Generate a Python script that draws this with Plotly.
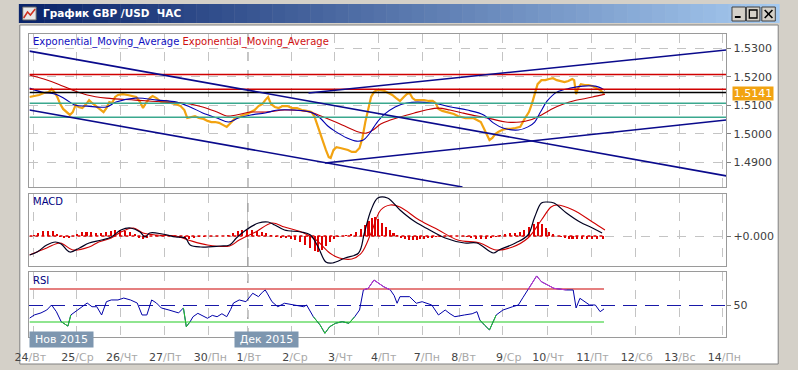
import plotly.graph_objects as go
import numpy as np

# ======================= DATA =======================
# time index (hourly bar time, arbitrary linear units)
grid_t = [19, 64, 110, 155, 201, 242, 287, 332, 378, 423, 462, 507, 553, 599, 645, 690, 735]
label_t = [16, 65, 111, 156, 203, 243, 291, 338, 383, 428, 466, 513, 554, 600, 646, 691, 737]
day_num = ["24", "25", "26", "27", "30", "1", "2", "3", "4", "7", "8", "9", "10", "11", "12", "13", "14"]
day_name = ["Вт", "Ср", "Чт", "Пт", "Пн", "Вт", "Ср", "Чт", "Пт", "Пн", "Вт", "Ср", "Чт", "Пт", "Сб", "Вс", "Пн"]
month_t = 242
month_labels = ["Нов 2015", "Дек 2015"]

t_price = [15, 20, 25, 30, 35, 38, 41, 44, 47, 50, 54, 57, 60, 63, 66, 70, 74, 77, 80, 84, 88, 92, 95, 98,
           101, 104, 107, 112, 117, 122, 126, 130, 133, 136, 140, 143, 147, 152, 157, 162, 167, 172, 176,
           179, 183, 187, 191, 196, 200, 204, 208, 212, 216, 220, 223, 226, 229, 233, 237, 241, 245, 249,
           253, 257, 260, 263, 266, 270, 274, 278, 283, 288, 293, 298, 303, 308, 311, 314, 317, 320, 323,
           326, 328, 331, 334, 338, 342, 346, 350, 354, 358, 361, 364, 367, 370, 373, 376, 380, 384, 388,
           392, 396, 400, 404, 407, 410, 413, 416, 420, 425, 430, 434, 437, 440, 444, 448, 452, 456, 460,
           464, 468, 472, 476, 480, 484, 487, 490, 493, 496, 499, 502, 506, 510, 515, 520, 525, 530, 534,
           537, 540, 543, 547, 551, 555, 559, 563, 567, 571, 575, 579, 581, 583, 585, 588, 592, 596, 600,
           604, 608, 612]
price = [1.5129, 1.5132, 1.5136, 1.5143, 1.5146, 1.5157, 1.5146, 1.5129, 1.5104, 1.5087, 1.5076, 1.5066,
         1.5076, 1.5101, 1.5094, 1.5090, 1.5104, 1.5118, 1.5108, 1.5097, 1.5087, 1.5076, 1.5090, 1.5111,
         1.5108, 1.5129, 1.5136, 1.5139, 1.5136, 1.5132, 1.5129, 1.5111, 1.5090, 1.5108, 1.5125, 1.5132,
         1.5125, 1.5111, 1.5115, 1.5108, 1.5104, 1.5097, 1.5083, 1.5055, 1.5059, 1.5062, 1.5055, 1.5052,
         1.5045, 1.5041, 1.5041, 1.5038, 1.5031, 1.5024, 1.5034, 1.5045, 1.5055, 1.5059, 1.5066, 1.5069,
         1.5076, 1.5083, 1.5097, 1.5104, 1.5118, 1.5129, 1.5104, 1.5094, 1.5090, 1.5097, 1.5097, 1.5090,
         1.5090, 1.5083, 1.5080, 1.5076, 1.5062, 1.5031, 1.5002, 1.4967, 1.4943, 1.4918, 1.4915, 1.4943,
         1.4953, 1.4950, 1.4946, 1.4943, 1.4936, 1.4936, 1.4950, 1.4985, 1.5041, 1.5083, 1.5129, 1.5146,
         1.5153, 1.5153, 1.5150, 1.5143, 1.5136, 1.5125, 1.5115, 1.5129, 1.5139, 1.5143, 1.5125, 1.5118,
         1.5118, 1.5118, 1.5115, 1.5115, 1.5108, 1.5087, 1.5080, 1.5076, 1.5073, 1.5069, 1.5062, 1.5059,
         1.5055, 1.5055, 1.5055, 1.5048, 1.5041, 1.5020, 1.4999, 1.4978, 1.4985, 1.4999, 1.5006, 1.5013,
         1.5017, 1.5017, 1.5020, 1.5024, 1.5055, 1.5076, 1.5104, 1.5139, 1.5174, 1.5188, 1.5188, 1.5192,
         1.5195, 1.5188, 1.5185, 1.5181, 1.5185, 1.5192, 1.5188, 1.5139, 1.5160, 1.5174, 1.5171, 1.5171,
         1.5167, 1.5160, 1.5153, 1.5141]
last_price = 1.5141

t_ema_fast = [15, 28, 42, 52, 62, 75, 95, 105, 125, 148, 168, 182, 195, 210, 222, 232, 245, 260, 273, 290,
              307, 317, 325, 332, 345, 355, 362, 368, 375, 383, 395, 407, 433, 453, 470, 487, 497, 507, 523,
              533, 540, 546, 553, 563, 577, 590, 603, 613]
ema_fast = [1.5160, 1.5146, 1.5139, 1.5122, 1.5101, 1.5097, 1.5094, 1.5111, 1.5125, 1.5118, 1.5111, 1.5094,
            1.5073, 1.5055, 1.5041, 1.5055, 1.5066, 1.5073, 1.5083, 1.5083, 1.5076, 1.5055, 1.5027, 1.5010,
            1.4985, 1.4974, 1.4978, 1.4999, 1.5034, 1.5066, 1.5094, 1.5108, 1.5108, 1.5094, 1.5083, 1.5066,
            1.5038, 1.5020, 1.5013, 1.5024, 1.5041, 1.5076, 1.5115, 1.5146, 1.5160, 1.5167, 1.5167, 1.5153]

t_ema_slow = [15, 30, 45, 60, 75, 95, 125, 155, 175, 195, 210, 220, 230, 245, 260, 280, 300, 310, 323, 340,
              357, 365, 372, 380, 390, 400, 415, 427, 440, 452, 465, 480, 495, 510, 525, 535, 547, 560, 570,
              580, 590, 600, 613]
ema_slow = [1.5206, 1.5192, 1.5174, 1.5153, 1.5136, 1.5125, 1.5118, 1.5111, 1.5108, 1.5094, 1.5076, 1.5062,
            1.5066, 1.5076, 1.5076, 1.5083, 1.5080, 1.5073, 1.5055, 1.5031, 1.5006, 1.5002, 1.5013, 1.5034,
            1.5048, 1.5059, 1.5073, 1.5083, 1.5090, 1.5083, 1.5073, 1.5062, 1.5052, 1.5041, 1.5041, 1.5048,
            1.5066, 1.5090, 1.5104, 1.5115, 1.5122, 1.5129, 1.5139]

h_levels = [1.5208, 1.5156, 1.5145, 1.5107, 1.5058]
trend_t = [[15, 739], [15, 465], [322, 739], [305, 739]]
trend_p = [[1.5290, 1.4852], [1.5083, 1.4813], [1.4897, 1.5048], [1.5143, 1.5294]]
price_ticks = [1.49, 1.50, 1.51, 1.52, 1.53]

t_macd = [15, 23, 33, 42, 48, 57, 67, 77, 90, 100, 110, 120, 130, 135, 140, 153, 167, 177, 182, 193, 213,
          223, 230, 240, 253, 263, 270, 280, 297, 307, 315, 323, 330, 343, 357, 363, 370, 377, 387, 400, 413,
          427, 447, 467, 480, 497, 503, 520, 533, 540, 547, 553, 560, 573, 587, 600, 610]
macd = [-0.00095, -0.0008, -0.00045, -0.0003, -0.0004, -0.0008, -0.0006, -0.00035, -0.0002, -0.00005, 0.0003,
        0.0004, 0.0002, -0.00005, 0.00015, 0.0001, -0.00005, -0.0001, -0.00045, -0.00055, -0.0005, -0.00045,
        -0.0001, 0.0003, 0.00065, 0.0007, 0.00055, 0.0003, 0.0002, 0.00005, -0.00055, -0.0013, -0.00135,
        -0.0011, -0.00085, 0.00015, 0.0013, 0.0019, 0.0019, 0.0013, 0.0008, 0.0004, -0.0001, -0.00035,
        -0.00035, -0.00085, -0.0007, -0.00035, 0.00005, 0.00095, 0.00165, 0.0017, 0.00165, 0.00115, 0.0007,
        0.0004, 0.00015]
t_signal = [15, 33, 47, 60, 77, 87, 100, 110, 123, 133, 147, 167, 180, 200, 223, 233, 250, 267, 280, 300, 313,
            327, 337, 350, 360, 370, 380, 390, 400, 420, 440, 460, 483, 500, 517, 533, 547, 557, 563, 580, 600, 613]
signal = [-0.00095, -0.0006, -0.00035, -0.0007, -0.00055, -0.0003, -0.0001, 0.0002, 0.0004, 0.00015, 0.00005,
          0.0, -0.0002, -0.00045, -0.0005, -0.0002, 0.0002, 0.00065, 0.00045, 0.00015, -0.0002, -0.00085,
          -0.0011, -0.00115, -0.00085, 0.00015, 0.0013, 0.00155, 0.00145, 0.0008, 0.0003, -0.0002, -0.00035,
          -0.0007, -0.00055, -0.0001, 0.0008, 0.00145, 0.00155, 0.0013, 0.0007, 0.0003]
t_hist = [15, 20, 25, 30, 35, 40, 44, 47, 52, 57, 61, 65, 70, 75, 80, 85, 90, 95, 100, 105, 110, 115, 120, 125,
          130, 134, 138, 142, 147, 152, 157, 162, 167, 172, 177, 182, 187, 192, 197, 202, 207, 212, 217, 222,
          227, 232, 237, 242, 247, 252, 257, 262, 267, 272, 277, 282, 287, 292, 297, 302, 307, 312, 316, 320,
          324, 328, 332, 336, 340, 345, 350, 355, 360, 364, 368, 372, 375, 378, 382, 386, 390, 394, 398, 402,
          406, 410, 414, 418, 422, 426, 430, 434, 438, 442, 446, 450, 455, 460, 465, 470, 475, 480, 485, 490,
          495, 500, 505, 510, 515, 520, 525, 530, 535, 540, 544, 548, 552, 556, 560, 564, 568, 572, 576, 580,
          585, 590, 595, 600, 605, 612]
hist = [0.0, 0.00005, 0.00015, 0.00025, 0.00025, 0.00025, 0.0001, -0.00005, -0.0001, -0.0001, 0.0, 0.0001,
        0.0002, 0.0002, 0.0002, 0.00015, 0.00015, 0.0002, 0.00025, 0.0003, 0.0003, 0.00025, 0.0002, 0.0001,
        -0.0001, -0.00015, -0.0001, 0.0, 0.00005, 0.00005, 0.00005, 0.0, -0.00005, -0.0001, -0.00015, -0.00015,
        -0.0001, -0.00005, -0.00005, 0.0, 0.0, 0.0, 0.0, 0.00005, 0.00015, 0.00025, 0.0003, 0.0003, 0.0003,
        0.00025, 0.0002, 0.00015, 0.00005, -0.00005, -0.0001, -0.0001, -0.00015, -0.0002, -0.0003, -0.00045,
        -0.0006, -0.00075, -0.0008, -0.0007, -0.0005, -0.0003, -0.00015, -0.00005, 0.0, 0.00005, 0.0001,
        0.0002, 0.00035, 0.00055, 0.00075, 0.0009, 0.00095, 0.00085, 0.00065, 0.00045, 0.0003, 0.00015,
        0.00005, -0.0001, -0.00015, -0.0002, -0.0002, -0.0002, -0.00015, -0.00015, -0.0001, -0.0001, -0.00005,
        -0.00005, 0.0, 0.0, 0.0, 0.0, 0.0, -0.00005, -0.0001, -0.00015, -0.00015, -0.00015, -0.0001, -0.00005,
        0.00005, 0.0001, 0.00015, 0.00015, 0.0002, 0.0003, 0.00045, 0.0006, 0.0007, 0.0006, 0.0004, 0.0002,
        0.0001, 0.0, -0.00005, -0.0001, -0.00015, -0.00015, -0.00015, -0.00015, -0.00015, -0.00015, -0.00015,
        -0.00015]

t_rsi = [15, 20, 27, 33, 38, 43, 48, 52, 55, 58, 63, 70, 75, 80, 85, 90, 95, 100, 107, 113, 120, 127, 132, 137,
         142, 147, 152, 160, 165, 170, 175, 178, 182, 185, 190, 195, 200, 205, 210, 215, 220, 224, 227, 233, 240,
         247, 253, 257, 260, 262, 267, 273, 280, 290, 300, 303, 310, 317, 322, 327, 333, 340, 347, 353, 358, 362,
         367, 373, 378, 383, 390, 394, 397, 400, 410, 417, 423, 433, 440, 447, 452, 457, 467, 475, 480, 483, 488,
         493, 500, 507, 517, 523, 528, 533, 537, 542, 547, 553, 560, 573, 580, 583, 587, 597, 603, 608, 612]
rsi = [34.5, 38.5, 41, 44.5, 50.6, 42.5, 30.4, 27, 25, 38.5, 42.5, 48.5, 53, 48.5, 48.5, 38.5, 54.6, 56.7, 56.7,
       59, 56.7, 53, 38.5, 38.5, 56.7, 53, 47, 44.5, 43, 41, 47, 24.3, 30.4, 36.4, 40.5, 37, 34.5, 38, 36.4, 40,
       36.4, 45, 53, 56.7, 54.6, 64.8, 60.7, 66, 68.8, 65, 54.6, 48.5, 52.7, 50.6, 48.5, 50.6, 36.4, 26.4, 16.3,
       24.3, 28.4, 30.4, 28.4, 36.4, 44.5, 68.8, 70.8, 80.9, 77, 72.8, 68.8, 62, 52.7, 60.7, 60.7, 52.7, 54.6,
       50.6, 38.5, 44.5, 40, 36.4, 38.5, 40, 42.5, 32.4, 26, 20.3, 38.5, 44.5, 48.5, 50.6, 60, 68.8, 76.9, 85.8,
       78.8, 74.8, 70.8, 68.8, 68.8, 47, 58.7, 50.6, 50.6, 42.5, 45.8]
rsi_hi, rsi_mid, rsi_lo = 70, 50, 30

# ======================= LAYOUT HELPERS =======================
W, H = 798, 370
def PX(x): return x / W
def PY(y): return 1 - y / H

X_RANGE = [15, 739]
MAIN_DOM = [PY(187), PY(34)]
MACD_DOM = [PY(266), PY(194)]
RSI_DOM = [PY(337), PY(272)]
FONT = "DejaVu Sans"
GRID = "#C4C4C4"
FRAME = "#9A9A9A"

fig = go.Figure()

# ---- main panel ----
fig.add_trace(go.Scatter(x=t_price, y=price, mode="lines", line=dict(color="#F2A311", width=2.2),
                         xaxis="x", yaxis="y"))
fig.add_trace(go.Scatter(x=t_ema_slow, y=ema_slow, mode="lines", line=dict(color="#C00000", width=1.1, shape="spline"),
                         xaxis="x", yaxis="y"))
fig.add_trace(go.Scatter(x=t_ema_fast, y=ema_fast, mode="lines", line=dict(color="#0000B0", width=1.1, shape="spline"),
                         xaxis="x", yaxis="y"))
h_colors = ["#D00000", "#D00000", "#000000", "#3AA88E", "#3AA88E"]
for lv, c in zip(h_levels, h_colors):
    fig.add_trace(go.Scatter(x=X_RANGE, y=[lv, lv], mode="lines", line=dict(color=c, width=1.5),
                             xaxis="x", yaxis="y"))
for tt, pp in zip(trend_t, trend_p):
    fig.add_trace(go.Scatter(x=tt, y=pp, mode="lines", line=dict(color="#0A0A8C", width=1.6),
                             xaxis="x", yaxis="y"))

# ---- MACD panel ----
fig.add_trace(go.Bar(x=t_hist, y=hist, width=1.6, marker=dict(color="#E00000", line=dict(width=0)),
                     xaxis="x2", yaxis="y2"))
fig.add_trace(go.Scatter(x=[t_hist[0], t_hist[-1]], y=[0, 0], mode="lines",
                         line=dict(color="#DD0000", width=1.3, dash="dot"), xaxis="x2", yaxis="y2"))
fig.add_trace(go.Scatter(x=t_signal, y=signal, mode="lines", line=dict(color="#D00000", width=1.1, shape="spline"),
                         xaxis="x2", yaxis="y2"))
fig.add_trace(go.Scatter(x=t_macd, y=macd, mode="lines", line=dict(color="#000020", width=1.2, shape="spline"),
                         xaxis="x2", yaxis="y2"))

# ---- RSI panel ----
fig.add_trace(go.Scatter(x=[t_rsi[0], t_rsi[-1]], y=[rsi_hi, rsi_hi], mode="lines",
                         line=dict(color="#CC0000", width=1.2), xaxis="x3", yaxis="y3"))
fig.add_trace(go.Scatter(x=[t_rsi[0], t_rsi[-1]], y=[rsi_lo, rsi_lo], mode="lines",
                         line=dict(color="#22CC22", width=1.2), xaxis="x3", yaxis="y3"))
fig.add_trace(go.Scatter(x=t_rsi, y=rsi, mode="lines", line=dict(color="#0000A8", width=1),
                         xaxis="x3", yaxis="y3"))
r = np.array(rsi, dtype=float)
def neighbor_mask(cond):
    m = cond.copy()
    m[1:] |= cond[:-1]
    m[:-1] |= cond[1:]
    return m
lo_mask = neighbor_mask(r < rsi_lo)
hi_mask = neighbor_mask(r > rsi_hi)
fig.add_trace(go.Scatter(x=t_rsi, y=np.where(lo_mask, r, np.nan), mode="lines",
                         line=dict(color="#22CC22", width=1), connectgaps=False, xaxis="x3", yaxis="y3"))
fig.add_trace(go.Scatter(x=t_rsi, y=np.where(hi_mask, r, np.nan), mode="lines",
                         line=dict(color="#CC33CC", width=1), connectgaps=False, xaxis="x3", yaxis="y3"))

# ---- axes ----
xcommon = dict(range=X_RANGE, domain=[PX(15), PX(739)], showline=True, mirror=True, linecolor=FRAME,
               linewidth=1, zeroline=False, ticks="", fixedrange=True)
grid_common = dict(minor=dict(tickmode="array", tickvals=grid_t, showgrid=True, gridcolor=GRID,
                              griddash="dash", gridwidth=1, ticks=""))
tick_text = [f"{n}<span style='color:#A8A8A8'>/{d}</span>" for n, d in zip(day_num, day_name)]

fig.update_layout(
    bargap=0,
    xaxis=dict(**xcommon, **grid_common, anchor="y", tickvals=label_t, showticklabels=False, showgrid=False),
    xaxis2=dict(**xcommon, **grid_common, anchor="y2", matches="x", tickvals=label_t, showticklabels=False,
                showgrid=False),
    xaxis3=dict(**xcommon, **grid_common, anchor="y3", matches="x", tickmode="array", tickvals=label_t,
                ticktext=tick_text, showgrid=False, showticklabels=True, ticklabelstandoff=10,
                tickfont=dict(family=FONT, size=11, color="#454545")),
    yaxis=dict(domain=MAIN_DOM, range=[1.4813, 1.5350], side="right", anchor="x", tickmode="array",
               tickvals=price_ticks, tickformat=".4f", showgrid=True, gridcolor=GRID, griddash="dash",
               ticks="outside", ticklen=4, tickcolor="#808080", showline=True, mirror=True, linecolor=FRAME,
               zeroline=False, tickfont=dict(family=FONT, size=11, color="#404040")),
    yaxis2=dict(domain=MACD_DOM, range=[-0.0015, 0.0021], side="right", anchor="x2", tickmode="array",
                tickvals=[0], ticktext=["+0.000"], showgrid=True, gridcolor=GRID, griddash="dash",
                ticks="outside", ticklen=4, tickcolor="#808080", showline=True, mirror=True, linecolor=FRAME,
                zeroline=False, tickfont=dict(family=FONT, size=11, color="#404040")),
    yaxis3=dict(domain=RSI_DOM, range=[11.8, 90.6], side="right", anchor="x3", tickmode="array",
                tickvals=[rsi_mid], ticktext=["50"], showgrid=True, gridcolor="#1818A8", griddash="14px,8px",
                gridwidth=1.3, ticks="outside", ticklen=4, tickcolor="#808080", showline=True, mirror=True,
                linecolor=FRAME, zeroline=False, tickfont=dict(family=FONT, size=11, color="#404040")),
)

# ---- window chrome (shapes in paper coords) ----
shapes = []
shapes.append(dict(type="rect", xref="paper", yref="paper", x0=PX(5), x1=PX(793), y0=PY(364), y1=PY(25),
                   fillcolor="white", line=dict(color="#808080", width=1), layer="below"))
c0 = np.array([10, 36, 106]); c1 = np.array([166, 202, 240])
n = 60
x0, x1 = 4, 794
for i in range(n):
    c = c0 + (c1 - c0) * i / (n - 1)
    xa = x0 + (x1 - x0) * i / n
    xb = x0 + (x1 - x0) * (i + 1) / n + 0.5
    shapes.append(dict(type="rect", xref="paper", yref="paper", x0=PX(xa), x1=PX(xb), y0=PY(23), y1=PY(4),
                       fillcolor=f"rgb({int(c[0])},{int(c[1])},{int(c[2])})", line=dict(width=0), layer="below"))
# title icon
shapes.append(dict(type="rect", xref="paper", yref="paper", x0=PX(8), x1=PX(22), y0=PY(20), y1=PY(7),
                   fillcolor="#E8E8E8", line=dict(color="#606060", width=1), layer="above"))
shapes.append(dict(type="path", xref="paper", yref="paper",
                   path=f"M {PX(9)},{PY(18)} L {PX(13)},{PY(12)} L {PX(16)},{PY(15)} L {PX(21)},{PY(9)}",
                   line=dict(color="#D03020", width=1.5), layer="above"))
# window buttons
for bx in [745, 760, 776]:
    shapes.append(dict(type="rect", xref="paper", yref="paper", x0=PX(bx), x1=PX(bx + 14), y0=PY(21), y1=PY(7),
                       fillcolor="#D4D0C8", line=dict(color="#404040", width=1), layer="above"))
shapes.append(dict(type="line", xref="paper", yref="paper", x0=PX(748), x1=PX(754), y0=PY(17), y1=PY(17),
                   line=dict(color="black", width=2)))
shapes.append(dict(type="rect", xref="paper", yref="paper", x0=PX(763), x1=PX(771), y0=PY(18), y1=PY(10),
                   line=dict(color="black", width=1.3)))
shapes.append(dict(type="line", xref="paper", yref="paper", x0=PX(779), x1=PX(787), y0=PY(18), y1=PY(10),
                   line=dict(color="black", width=1.6)))
shapes.append(dict(type="line", xref="paper", yref="paper", x0=PX(779), x1=PX(787), y0=PY(10), y1=PY(18),
                   line=dict(color="black", width=1.6)))
# month separator lines
for yr in ["y domain", "y2 domain", "y3 domain"]:
    xr = {"y domain": "x", "y2 domain": "x2", "y3 domain": "x3"}[yr]
    shapes.append(dict(type="line", xref=xr, yref=yr, x0=month_t, x1=month_t, y0=0, y1=1,
                       line=dict(color="#707070", width=1, dash="dash"), layer="below"))
fig.update_layout(shapes=shapes)

# ---- text ----
ann = []
ann.append(dict(xref="paper", yref="paper", x=PX(27), y=PY(13.5), xanchor="left", yanchor="middle",
                text="<b>График GBP /USD  ЧАС</b>", showarrow=False,
                font=dict(family=FONT, size=10.5, color="white")))
ann.append(dict(xref="paper", yref="paper", x=PX(17), y=PY(42), xanchor="left", yanchor="middle",
                text="<span style='color:#1010C0'>Exponential_Moving_Average</span> "
                     "<span style='color:#D01010'>Exponential_Moving_Average</span>",
                showarrow=False, font=dict(family=FONT, size=10)))
ann.append(dict(xref="paper", yref="paper", x=PX(17), y=PY(201), xanchor="left", yanchor="middle",
                text="MACD", showarrow=False, font=dict(family=FONT, size=10, color="#000080")))
ann.append(dict(xref="paper", yref="paper", x=PX(17), y=PY(280), xanchor="left", yanchor="middle",
                text="RSI", showarrow=False, font=dict(family=FONT, size=10, color="#000080")))
ann.append(dict(xref="paper", yref="y", x=PX(745), y=last_price, xanchor="left", yanchor="middle",
                text=f"{last_price:.4f}", showarrow=False, bgcolor="#F2A311", borderpad=0,
                width=40, height=13, font=dict(family=FONT, size=11, color="white")))
for lbl, xl in zip(month_labels, [15, 228]):
    ann.append(dict(xref="paper", yref="paper", x=PX(xl), y=PY(339.5), xanchor="left", yanchor="middle",
                    text=lbl, showarrow=False, bgcolor="#7D96AF", width=63, height=15, borderpad=0,
                    font=dict(family=FONT, size=11, color="white")))
fig.update_layout(annotations=ann)

fig.update_layout(width=W, height=H, margin=dict(l=0, r=0, t=0, b=0), showlegend=False,
                  paper_bgcolor="#D4D0C8", plot_bgcolor="white", font=dict(family=FONT))

fig.write_html("out.html", config={"displayModeBar": False})
